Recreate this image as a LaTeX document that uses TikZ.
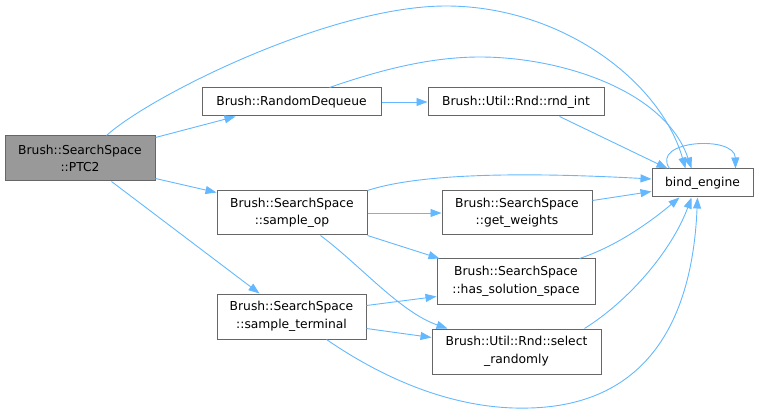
\documentclass[tikz,border=0pt]{standalone}
\usepackage{fontspec}
\setmainfont{DejaVu Sans}
\usetikzlibrary{arrows.meta,calc}
\definecolor{edgeblue}{HTML}{63B8FF}
\definecolor{boxline}{HTML}{666666}
\definecolor{boxgray}{HTML}{999999}
\tikzset{
  box/.style={draw=boxline, fill=white, line width=1pt, align=center, inner sep=0pt,
    font=\fontsize{12.3}{17.5}\selectfont},
  ed/.style={draw=edgeblue, line width=0.9pt,
    -{Triangle[length=11pt,width=8pt,fill=edgeblue]}}
}
\begin{document}
\begin{tikzpicture}[x=1pt,y=-1pt]
\useasboundingbox (0,0) rectangle (758,414);
\node[box, fill=boxgray, minimum width=150pt, minimum height=45pt] (ptc2) at (80,158.5) {Brush::SearchSpace\\::PTC2};
\node[box, minimum width=179pt, minimum height=28pt] (rdq) at (291.5,102) {Brush::RandomDequeue};
\node[box, minimum width=176pt, minimum height=28pt] (rnd) at (516,102) {Brush::Util::Rnd::rnd\_int};
\node[box, minimum width=101pt, minimum height=28pt] (bind) at (702.5,183) {bind\_engine};
\node[box, minimum width=150pt, minimum height=44pt] (sop) at (292,213) {Brush::SearchSpace\\::sample\_op};
\node[box, minimum width=150pt, minimum height=44pt] (gw) at (517,213) {Brush::SearchSpace\\::get\_weights};
\node[box, minimum width=158pt, minimum height=45pt] (hss) at (516,281.5) {Brush::SearchSpace\\::has\_solution\_space};
\node[box, minimum width=149pt, minimum height=45pt] (st) at (291.5,316.5) {Brush::SearchSpace\\::sample\_terminal};
\node[box, minimum width=169pt, minimum height=45pt] (sel) at (516.5,351.5) {Brush::Util::Rnd::select\\\_randomly};

% PTC2 edges
\draw[ed] ($(ptc2.north west)+(102,0)$) .. controls (150,96) and (330,6) .. (446,6)
  .. controls (560,6) and (660,80) .. ($(bind.north west)+(34,0)$);
\draw[ed] ($(ptc2.north east)+(0,2)$) -- ($(rdq.south west)+(34,0)$);
\draw[ed] ($(ptc2.south east)+(0,-3)$) -- ($(sop.north west)+(0,2)$);
\draw[ed] ($(ptc2.south west)+(107,0)$) -- ($(st.north west)+(43,0)$);
% RandomDequeue
\draw[ed] (rdq.east) -- (rnd.west);
\draw[ed] ($(rdq.north west)+(128,0)$) .. controls (380,70) and (430,57) .. (480,57)
  .. controls (560,57) and (665,90) .. ($(bind.north west)+(40,0)$);
% rnd_int
\draw[ed] ($(rnd.south west)+(132,0)$) -- ($(bind.north west)+(16,0)$);
% self loop
\draw[ed] ($(bind.north west)+(18,0)$) .. controls (650,140) and (735,135) .. ($(bind.north east)+(-18,0)$);
% sample_op
\draw[ed] (sop.north east) .. controls (430,170) and (560,174) .. ($(bind.west)+(0,-4)$);
\draw[ed] (sop.east) -- (gw.west);
\draw[ed] (sop.south east) -- ($(hss.north west)+(3,0)$);
\draw[ed] ($(sop.south west)+(104,0)$) .. controls (360,265) and (400,312) .. ($(sel.north west)+(16,0)$);
% get_weights
\draw[ed] ($(gw.north east)+(0,10)$) -- ($(bind.south west)+(0,-6)$);
% has_solution_space
\draw[ed] ($(hss.north west)+(143,0)$) .. controls (620,245) and (655,218) .. ($(bind.south west)+(28,0)$);
% sample_terminal
\draw[ed] ($(st.north east)+(0,12)$) -- ($(hss.south west)+(0,-8)$);
\draw[ed] ($(st.south east)+(0,-11)$) -- ($(sel.north west)+(0,9)$);
\draw[ed] ($(st.south west)+(110,0)$) .. controls (400,390) and (470,410) .. (530,408)
  .. controls (640,405) and (692,330) .. ($(bind.south west)+(46,0)$);
% select_randomly
\draw[ed] ($(sel.north west)+(153,0)$) .. controls (630,300) and (672,250) .. ($(bind.south west)+(40,0)$);
\end{tikzpicture}
\end{document}
